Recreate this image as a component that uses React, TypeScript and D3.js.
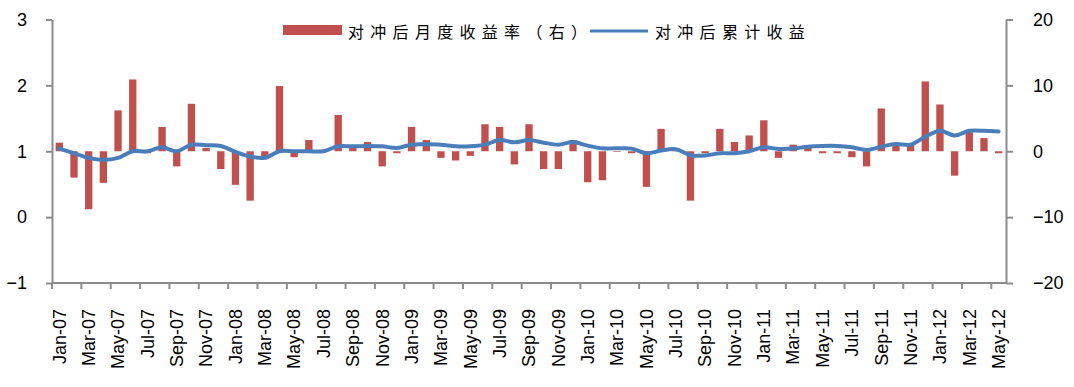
import { useEffect, useRef } from 'react';
import * as d3 from 'd3';

const months = [
  'Jan-07', 'Feb-07', 'Mar-07', 'Apr-07', 'May-07', 'Jun-07', 'Jul-07', 'Aug-07', 'Sep-07', 'Oct-07', 'Nov-07', 'Dec-07',
  'Jan-08', 'Feb-08', 'Mar-08', 'Apr-08', 'May-08', 'Jun-08', 'Jul-08', 'Aug-08', 'Sep-08', 'Oct-08', 'Nov-08', 'Dec-08',
  'Jan-09', 'Feb-09', 'Mar-09', 'Apr-09', 'May-09', 'Jun-09', 'Jul-09', 'Aug-09', 'Sep-09', 'Oct-09', 'Nov-09', 'Dec-09',
  'Jan-10', 'Feb-10', 'Mar-10', 'Apr-10', 'May-10', 'Jun-10', 'Jul-10', 'Aug-10', 'Sep-10', 'Oct-10', 'Nov-10', 'Dec-10',
  'Jan-11', 'Feb-11', 'Mar-11', 'Apr-11', 'May-11', 'Jun-11', 'Jul-11', 'Aug-11', 'Sep-11', 'Oct-11', 'Nov-11', 'Dec-11',
  'Jan-12', 'Feb-12', 'Mar-12', 'Apr-12', 'May-12',
];

// 对冲后月度收益率 (%), right axis
const monthlyReturn = [
  1.3, -4.0, -8.8, -4.8, 6.2, 10.9, -0.3, 3.7, -2.3, 7.2, 0.5, -2.7,
  -5.1, -7.5, -1.2, 9.9, -0.9, 1.7, -0.1, 5.5, 0.5, 1.4, -2.3, -0.3,
  3.7, 1.7, -1.0, -1.4, -0.7, 4.1, 3.7, -2.0, 4.1, -2.7, -2.7, 1.7,
  -4.7, -4.4, -0.1, -0.3, -5.4, 3.4, 0.1, -7.5, -0.3, 3.4, 1.4, 2.4,
  4.7, -1.0, 1.0, 0.5, -0.3, -0.3, -0.9, -2.3, 6.5, 1.1, 1.0, 10.6,
  7.1, -3.7, 2.9, 2.0, -0.3,
];

// 对冲后累计收益, left axis
const cumulative = [
  1.04, 0.97, 0.9, 0.87, 0.9, 1.0, 1.0, 1.06, 1.0, 1.1, 1.09, 1.08,
  0.99, 0.92, 0.9, 1.0, 1.0, 1.0, 1.0, 1.075, 1.075, 1.08, 1.075, 1.05,
  1.1, 1.105, 1.1, 1.075, 1.075, 1.1, 1.17, 1.135, 1.17, 1.13, 1.1, 1.14,
  1.085, 1.045, 1.045, 1.04, 0.97, 1.01, 1.03, 0.94, 0.935, 0.97, 0.97, 1.0,
  1.06, 1.035, 1.04, 1.07, 1.08, 1.08, 1.06, 1.02, 1.07, 1.11, 1.1, 1.22,
  1.31, 1.24, 1.31, 1.31, 1.3,
];

const leftTicks = [-1, 0, 1, 2, 3];
const rightTicks = [-20, -10, 0, 10, 20];
const barLabel = '对冲后月度收益率（右）';
const lineLabel = '对冲后累计收益';

const W = 1074;
const H = 387;
const barColor = '#C0504D';
const lineColor = '#4A7EBB';
const axisColor = '#8C8C8C';
const numFont = "'Liberation Sans', Arial, sans-serif";
const cjkFont = "'Noto Sans CJK SC', sans-serif";

const App = () => {
  const ref = useRef<SVGSVGElement>(null);

  useEffect(() => {
    const svg = d3.select(ref.current);
    svg.selectAll('*').remove();

    const plot = { left: 52, right: 1006, top: 19.5, bottom: 283 };

    const x = d3.scaleBand()
      .domain(months)
      .range([plot.left, plot.right])
      .paddingInner(0.5)
      .paddingOuter(0.25);
    const step = x.step();
    const cx = (m: string) => (x(m) as number) + x.bandwidth() / 2;

    const yL = d3.scaleLinear().domain([-1, 3]).range([plot.bottom, plot.top]);
    const yR = d3.scaleLinear().domain([-20, 20]).range([plot.bottom, plot.top]);

    // bars
    svg.append('g')
      .selectAll('rect')
      .data(monthlyReturn)
      .enter()
      .append('rect')
      .attr('x', (_, i) => x(months[i]) as number)
      .attr('width', x.bandwidth())
      .attr('y', d => yR(Math.max(0, d)))
      .attr('height', d => Math.abs(yR(d) - yR(0)))
      .attr('fill', barColor);

    // line
    const line = d3.line<number>()
      .x((_, i) => cx(months[i]))
      .y(d => yL(d))
      .curve(d3.curveCatmullRom.alpha(0.5));

    svg.append('path')
      .datum(cumulative)
      .attr('d', line)
      .attr('fill', 'none')
      .attr('stroke', lineColor)
      .attr('stroke-width', 4)
      .attr('stroke-linejoin', 'round')
      .attr('stroke-linecap', 'round');

    // left axis
    const gl = svg.append('g')
      .attr('transform', `translate(${plot.left},0)`)
      .call(d3.axisLeft(yL).tickValues(leftTicks).tickSize(6).tickSizeOuter(0).tickPadding(19).tickFormat(d3.format('d')));
    gl.select('.domain').attr('stroke', axisColor).attr('stroke-width', 2);
    gl.selectAll('.tick line').attr('stroke', axisColor).attr('stroke-width', 2);
    gl.selectAll('.tick text')
      .attr('font-family', numFont)
      .attr('font-size', 18)
      .attr('fill', '#000');

    // right axis
    const gr = svg.append('g')
      .attr('transform', `translate(${plot.right},0)`)
      .call(d3.axisRight(yR).tickValues(rightTicks).tickSize(7).tickSizeOuter(0).tickPadding(20).tickFormat(d3.format('d')));
    gr.select('.domain').attr('stroke', axisColor).attr('stroke-width', 2);
    gr.selectAll('.tick line').attr('stroke', axisColor).attr('stroke-width', 2);
    gr.selectAll('.tick text')
      .attr('font-family', numFont)
      .attr('font-size', 18)
      .attr('fill', '#000');

    // x axis
    const gx = svg.append('g');
    gx.append('line')
      .attr('x1', plot.left).attr('x2', plot.right)
      .attr('y1', plot.bottom).attr('y2', plot.bottom)
      .attr('stroke', axisColor).attr('stroke-width', 2);
    const tickCats = months.filter((_, i) => i % 2 === 0);
    gx.selectAll('line.tk')
      .data(tickCats)
      .enter()
      .append('line')
      .attr('class', 'tk')
      .attr('x1', m => cx(m) - step / 2)
      .attr('x2', m => cx(m) - step / 2)
      .attr('y1', plot.bottom)
      .attr('y2', plot.bottom + 6)
      .attr('stroke', axisColor)
      .attr('stroke-width', 2);
    gx.selectAll('text')
      .data(tickCats)
      .enter()
      .append('text')
      .attr('transform', m => `translate(${cx(m)},${plot.bottom + 26}) rotate(-90)`)
      .attr('text-anchor', 'end')
      .attr('dy', '0.35em')
      .attr('font-family', numFont)
      .attr('font-size', 18)
      .attr('fill', '#000')
      .text(m => m);

    // legend
    const lg = svg.append('g');
    lg.append('rect')
      .attr('x', 283).attr('y', 25).attr('width', 59).attr('height', 10)
      .attr('fill', barColor);
    lg.append('text')
      .attr('x', 348).attr('y', 31)
      .attr('dominant-baseline', 'central')
      .attr('font-family', cjkFont)
      .attr('font-size', 16)
      .attr('letter-spacing', 6.3)
      .attr('fill', '#000')
      .text(barLabel);
    lg.append('line')
      .attr('x1', 590).attr('x2', 648).attr('y1', 31).attr('y2', 31)
      .attr('stroke', lineColor).attr('stroke-width', 3);
    lg.append('text')
      .attr('x', 655).attr('y', 31)
      .attr('dominant-baseline', 'central')
      .attr('font-family', cjkFont)
      .attr('font-size', 16)
      .attr('letter-spacing', 6.3)
      .attr('fill', '#000')
      .text(lineLabel);

    return () => {
      svg.selectAll('*').remove();
    };
  }, []);

  return (
    <svg
      ref={ref}
      width={W}
      height={H}
      style={{ position: 'absolute', left: 0, top: 0, background: '#fff' }}
    />
  );
};

export default App;
